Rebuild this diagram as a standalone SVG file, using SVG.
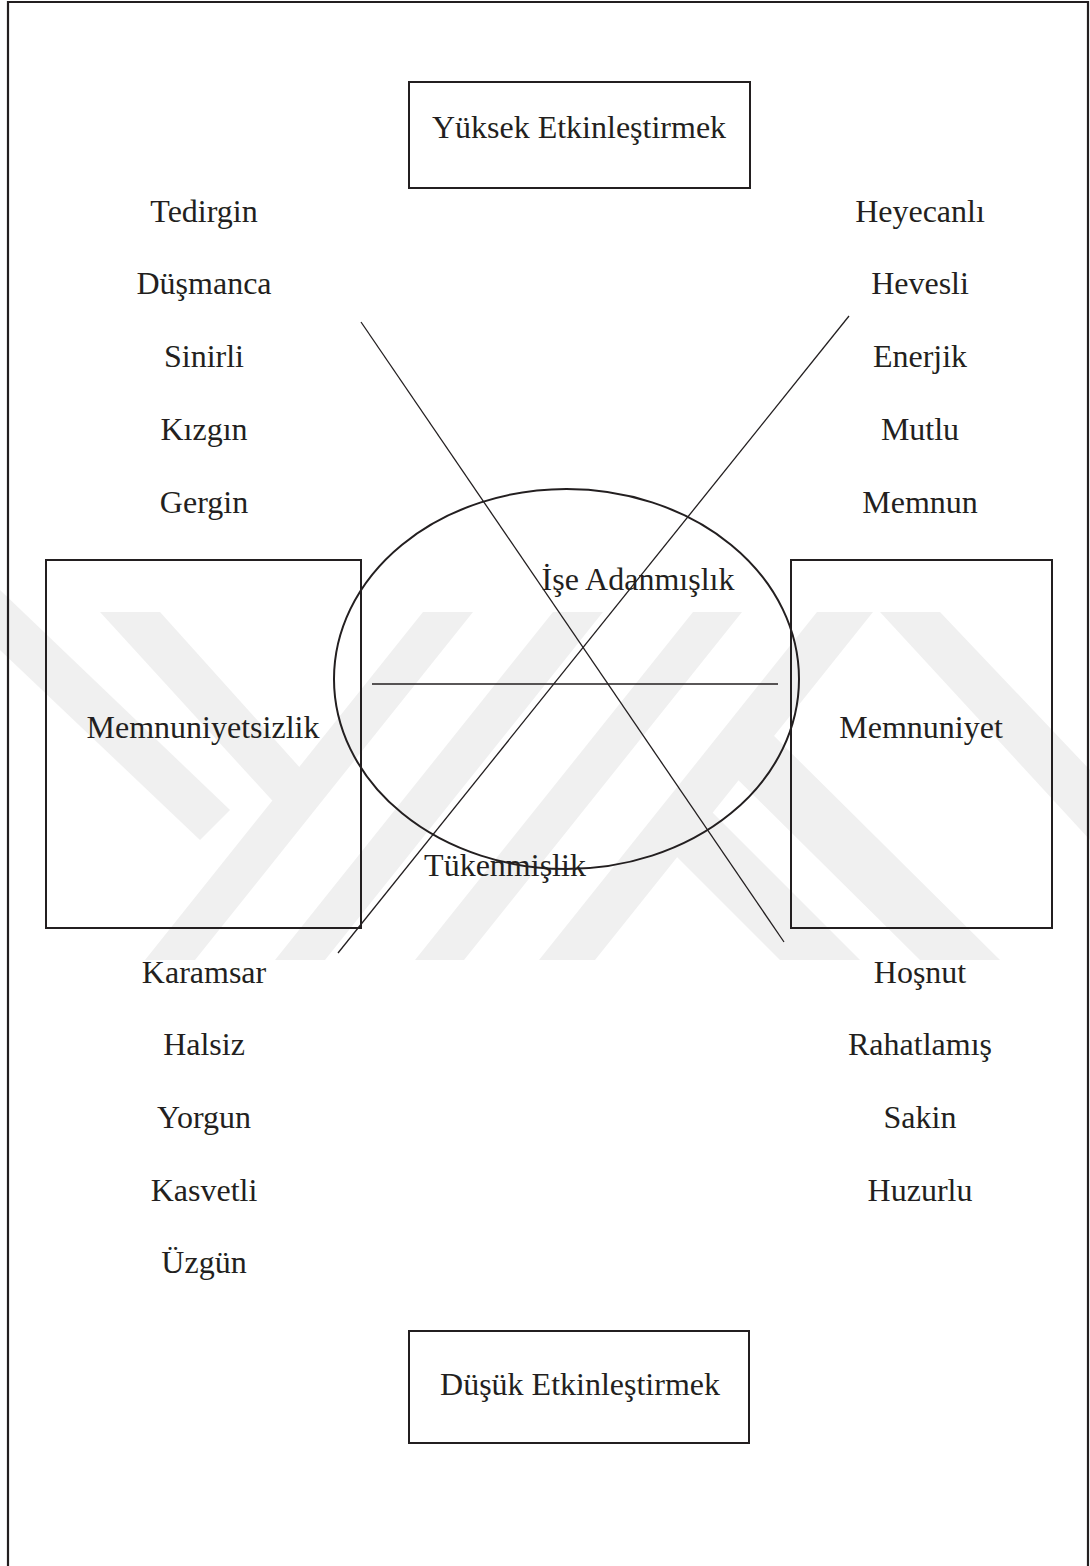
<svg xmlns="http://www.w3.org/2000/svg" width="1090" height="1566" viewBox="0 0 1090 1566">
<style>
.t{font-family:"Liberation Serif","Times New Roman",serif;font-size:32px;fill:#231f20;text-anchor:middle}
.box{fill:none;stroke:#231f20;stroke-width:2}
.ln{fill:none;stroke:#231f20;stroke-width:1.3}
.wm{fill:#f0f0f0;stroke:none}
</style>
<rect x="0" y="0" width="1090" height="1566" fill="#ffffff"/>
<g id="watermark">
<polygon class="wm" points="0,590 0,650 200,840 230,810"/>
<polygon class="wm" points="100,612 160,612 320,790 290,820"/>
<polygon class="wm" points="423,612 473,612 195,960 145,960"/>
<polygon class="wm" points="553,612 603,612 325,960 275,960"/>
<polygon class="wm" points="693,612 742,612 464,960 415,960"/>
<polygon class="wm" points="817,612 873,612 595,960 539,960"/>
<polygon class="wm" points="650,830 690,790 860,960 780,960"/>
<polygon class="wm" points="720,762 760,722 1000,960 920,960"/>
<polygon class="wm" points="880,612 940,612 1090,770 1090,840"/>
</g>
<g id="frame">
<path d="M8,1566 V2 H1088 V1566" fill="none" stroke="#231f20" stroke-width="2.2"/>
</g>
<g id="connectors">
<line class="ln" x1="361" y1="322" x2="784" y2="942"/>
<line class="ln" x1="338" y1="953" x2="849" y2="316"/>
<line class="ln" x1="372" y1="684" x2="778" y2="684"/>
</g>
<g id="ellipse-node">
<ellipse cx="566.5" cy="679" rx="232.5" ry="190" class="box"/>
<text class="t" x="638" y="590">İşe Adanmışlık</text>
<text class="t" x="505" y="876">Tükenmişlik</text>
</g>
<g id="yuksek">
<rect class="box" x="409" y="82" width="341" height="106"/>
<text class="t" x="579" y="138">Yüksek Etkinleştirmek</text>
</g>
<g id="dusuk">
<rect class="box" x="409" y="1331" width="340" height="112"/>
<text class="t" x="580" y="1395">Düşük Etkinleştirmek</text>
</g>
<g id="memnuniyetsizlik">
<rect class="box" x="46" y="560" width="315" height="368"/>
<text class="t" x="203" y="738">Memnuniyetsizlik</text>
</g>
<g id="memnuniyet">
<rect class="box" x="791" y="560" width="261" height="368"/>
<text class="t" x="921" y="738">Memnuniyet</text>
</g>
<g id="left-top-words">
<text class="t" x="204" y="222">Tedirgin</text>
<text class="t" x="204" y="294">Düşmanca</text>
<text class="t" x="204" y="367">Sinirli</text>
<text class="t" x="204" y="440">Kızgın</text>
<text class="t" x="204" y="513">Gergin</text>
</g>
<g id="right-top-words">
<text class="t" x="920" y="222">Heyecanlı</text>
<text class="t" x="920" y="294">Hevesli</text>
<text class="t" x="920" y="367">Enerjik</text>
<text class="t" x="920" y="440">Mutlu</text>
<text class="t" x="920" y="513">Memnun</text>
</g>
<g id="left-bottom-words">
<text class="t" x="204" y="983">Karamsar</text>
<text class="t" x="204" y="1055">Halsiz</text>
<text class="t" x="204" y="1128">Yorgun</text>
<text class="t" x="204" y="1201">Kasvetli</text>
<text class="t" x="204" y="1273">Üzgün</text>
</g>
<g id="right-bottom-words">
<text class="t" x="920" y="983">Hoşnut</text>
<text class="t" x="920" y="1055">Rahatlamış</text>
<text class="t" x="920" y="1128">Sakin</text>
<text class="t" x="920" y="1201">Huzurlu</text>
</g>
</svg>
